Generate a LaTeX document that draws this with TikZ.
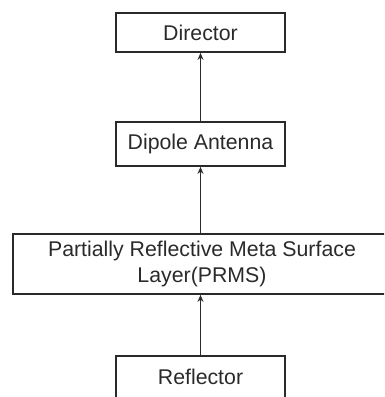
\documentclass[tikz,border=0pt]{standalone}
\usepackage{fontspec}
\setmainfont{Liberation Sans}
\usetikzlibrary{arrows.meta}
\definecolor{ink}{HTML}{2A2A2A}
\begin{document}
\begin{tikzpicture}[x=1pt,y=-1pt,
  box/.style={draw=ink, line width=1.8pt, rectangle, inner sep=0pt, text=ink,
    font=\fontsize{21.3}{26}\selectfont, align=center},
  arr/.style={draw=ink, line width=1.6pt, -{Stealth[length=7pt,width=6pt]}}]
\useasboundingbox (0,0) rectangle (384,397);
\clip (0,0) rectangle (384,397);
\node[box, minimum width=169pt, minimum height=39pt] (director) at (200.5,32.5) {Director};
\node[box, minimum width=169pt, minimum height=44pt] (dipole) at (200.5,144) {Dipole Antenna};
\node[box, minimum width=378pt, minimum height=60pt] (prms) at (202,264) {Partially Reflective Meta Surface\\Layer(PRMS)};
\node[box, minimum width=169pt, minimum height=42pt] (reflector) at (200.5,377) {Reflector};
\draw[arr] (dipole.north) -- (director.south);
\draw[arr] (prms.north -| dipole.south) -- (dipole.south);
\draw[arr] (reflector.north) -- (reflector.north |- prms.south);
\end{tikzpicture}
\end{document}
